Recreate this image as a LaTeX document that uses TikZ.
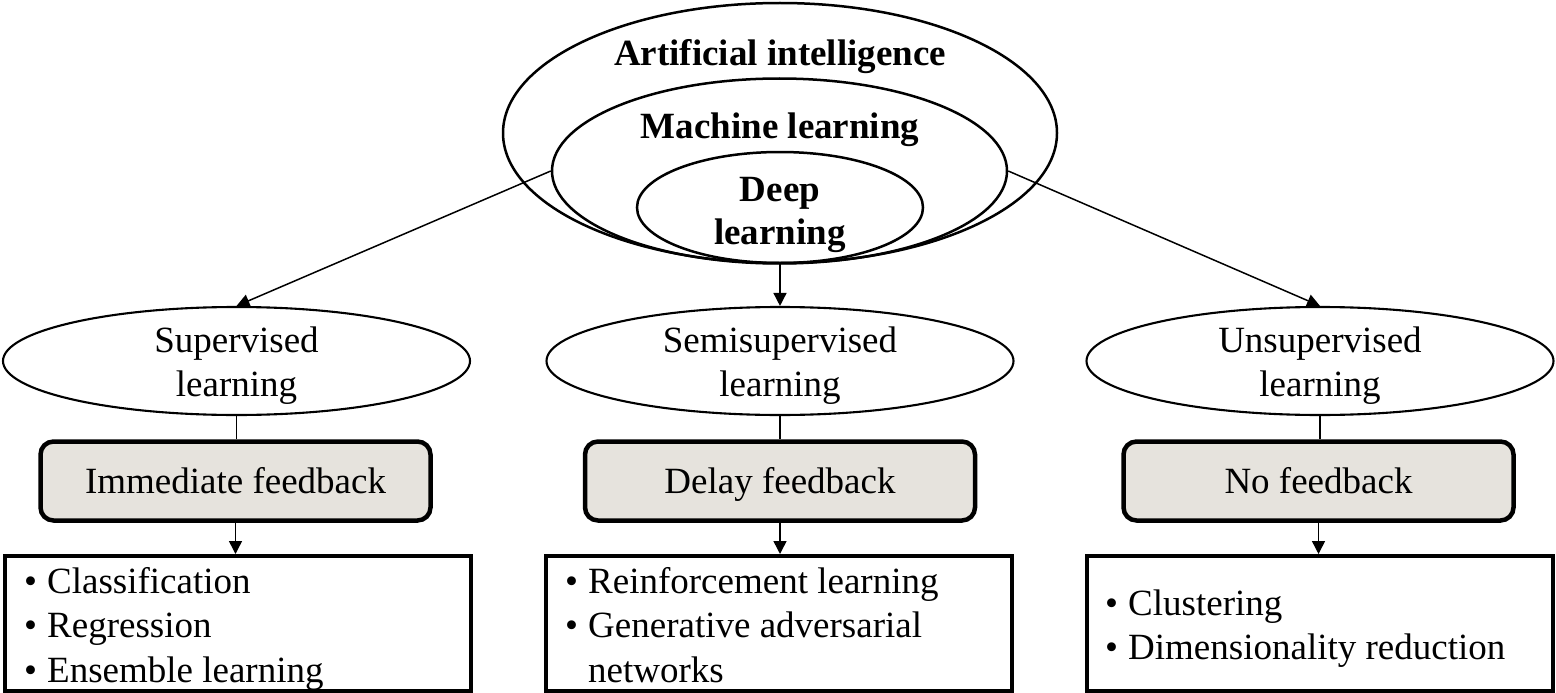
\documentclass[tikz,border=0pt]{standalone}
\usepackage{fontspec}
\setmainfont{Liberation Serif}
\usetikzlibrary{shapes.geometric,arrows.meta}
\definecolor{fbgray}{RGB}{230,227,221}
\newcommand\twolines[2]{\begin{tabular}[t]{@{}c@{}}#1\\#2\end{tabular}}
\newcommand\bul{\makebox[23pt][l]{•}}
\newcommand\hang{\hspace*{23pt}}
\begin{document}
\begin{tikzpicture}[x=1pt,y=-1pt,
  ring/.style={draw, ellipse, line width=2.5pt, inner sep=0pt},
  kind/.style={draw, ellipse, line width=2.1pt, inner sep=0pt,
    minimum width=467, minimum height=108},
  boldtxt/.style={inner sep=0pt, anchor=base,
    font=\fontsize{37}{43}\selectfont\bfseries},
  plaintxt/.style={inner sep=0pt, anchor=base,
    font=\fontsize{37}{44.5}\selectfont},
  fbbox/.style={draw, line width=4.5pt, rounded corners=13pt, fill=fbgray,
    minimum width=390, minimum height=79, inner sep=0pt,
    text height=25.3pt, text depth=0pt, font=\fontsize{37}{44.5}\selectfont},
  listbox/.style={draw, line width=4pt, minimum width=466, minimum height=135,
    inner sep=0pt},
  listtxt/.style={inner sep=0pt, anchor=base west,
    font=\fontsize{37}{44.5}\selectfont},
  conn/.style={line width=1.5pt},
  arr/.style={conn, -{Triangle[length=13pt,width=13pt]}}]
\useasboundingbox (0,0) rectangle (1556,693);

% nested fields
\node[ring, minimum width=554, minimum height=260] (ai) at (780,133) {};
\node[ring, minimum width=455, minimum height=185] (ml) at (779.5,171) {};
\node[ring, minimum width=286, minimum height=111] (dl) at (780,207.5) {};
\node[boldtxt] (aitxt) at (780,66) {Artificial intelligence};
\node[boldtxt] (mltxt) at (780,138) {Machine learning};
\node[boldtxt] (dltxt) at (780,201) {\twolines{Deep}{learning}};

% learning paradigms
\node[kind] (sup)  at (236.5,361) {};
\node[kind] (semi) at (780,361) {};
\node[kind] (uns)  at (1320,361) {};
\node[plaintxt] (suptxt)  at (236.5,352) {\twolines{Supervised}{learning}};
\node[plaintxt] (semitxt) at (780,352) {\twolines{Semisupervised}{learning}};
\node[plaintxt] (unstxt)  at (1320,352) {\twolines{Unsupervised}{learning}};

% feedback type
\node[fbbox] (fb1) at (235.5,481) {Immediate feedback};
\node[fbbox] (fb2) at (780,481) {Delay feedback};
\node[fbbox] (fb3) at (1318.5,481) {No feedback};

% methods
\node[listbox] (ls1) at (238,623.5) {};
\node[listbox] (ls2) at (778.5,623.5) {};
\node[listbox] (ls3) at (1319.5,623.5) {};
\node[listtxt] (ls1txt) at (24,593) {\begin{tabular}[t]{@{}l@{}}\bul Classification\\\bul Regression\\\bul Ensemble learning\end{tabular}};
\node[listtxt] (ls2txt) at (565,593) {\begin{tabular}[t]{@{}l@{}}\bul Reinforcement learning\\\bul Generative adversarial\\\hang networks\end{tabular}};
\node[listtxt] (ls3txt) at (1105,615) {\begin{tabular}[t]{@{}l@{}}\bul Clustering\\\bul Dimensionality reduction\end{tabular}};

% connectors
\draw[arr] (ml.west) -- (sup.north);
\draw[arr] (dl.south) -- (dl.south |- semi.north);
\draw[arr] (ml.east) -- (uns.north);
\draw[conn] (sup.south) -- (sup.south |- fb1.north);
\draw[conn] (semi.south) -- (semi.south |- fb2.north);
\draw[conn] (uns.south) -- (uns.south |- fb3.north);
\draw[arr] (fb1.south) -- (fb1.south |- ls1.north);
\draw[arr] (fb2.south) -- (fb2.south |- ls2.north);
\draw[arr] (fb3.south) -- (fb3.south |- ls3.north);
\end{tikzpicture}
\end{document}
